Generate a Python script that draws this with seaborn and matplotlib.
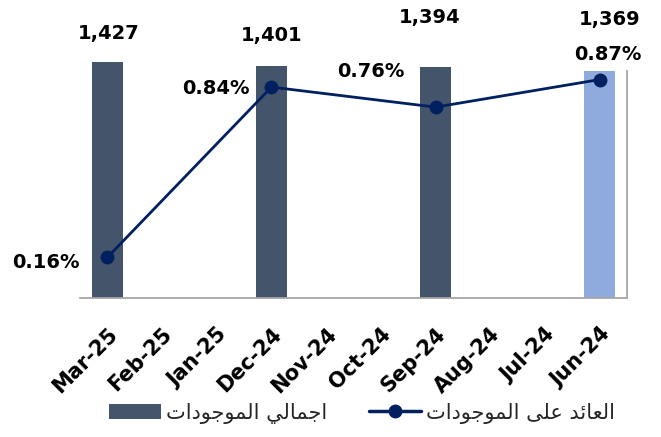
import matplotlib
matplotlib.use("Agg")
import matplotlib.pyplot as plt
import seaborn as sns
import pandas as pd
from matplotlib.patches import Patch
from matplotlib.lines import Line2D

# === Data ===
months = ["Mar-25", "Feb-25", "Jan-25", "Dec-24", "Nov-24",
          "Oct-24", "Sep-24", "Aug-24", "Jul-24", "Jun-24"]
bar_months = ["Mar-25", "Dec-24", "Sep-24", "Jun-24"]
total_assets = [1427, 1401, 1394, 1369]
roa = [0.16, 0.84, 0.76, 0.87]

label_assets = "اجمالي الموجودات"
label_roa = "العائد على الموجودات"

# === Styles ===
dark_bar = "#44546A"
light_bar = "#8FAADC"
line_color = "#002060"
spine_color = "#A6A6A6"

# label offsets (points) for value labels
asset_offsets = [(1, 13), (0, 15), (-4, 29), (7, 30)]
roa_offsets = [(-20, -4), (-16, -1), (-22, 26), (6, 18)]
roa_ha = ["right", "right", "right", "center"]

# === Arabic shaping (presentation forms, visual order) ===
FORMS = {
    "ا": ("\uFE8D", "\uFE8E", None, None),
    "د": ("\uFEA9", "\uFEAA", None, None),
    "و": ("\uFEED", "\uFEEE", None, None),
    "ج": ("\uFE9D", "\uFE9E", "\uFE9F", "\uFEA0"),
    "م": ("\uFEE1", "\uFEE2", "\uFEE3", "\uFEE4"),
    "ل": ("\uFEDD", "\uFEDE", "\uFEDF", "\uFEE0"),
    "ي": ("\uFEF1", "\uFEF2", "\uFEF3", "\uFEF4"),
    "ت": ("\uFE95", "\uFE96", "\uFE97", "\uFE98"),
    "ع": ("\uFEC9", "\uFECA", "\uFECB", "\uFECC"),
    "ئ": ("\uFE89", "\uFE8A", "\uFE8B", "\uFE8C"),
    "ى": ("\uFEEF", "\uFEF0", "\uFBE8", "\uFBE9"),
}


def shape(text):
    out = []
    for i, c in enumerate(text):
        if c not in FORMS:
            out.append(c)
            continue
        prev = text[i - 1] if i > 0 else None
        nxt = text[i + 1] if i + 1 < len(text) else None
        join_prev = prev in FORMS and FORMS[prev][2] is not None
        join_next = FORMS[c][2] is not None and nxt in FORMS
        iso, fin, ini, med = FORMS[c]
        if join_prev and join_next:
            out.append(med)
        elif join_prev:
            out.append(fin)
        elif join_next:
            out.append(ini)
        else:
            out.append(iso)
    return "".join(reversed(out))


sns.set_theme(style="white")
plt.rcParams["font.family"] = ["DejaVu Sans"]

df = pd.DataFrame({"month": bar_months, "assets": total_assets})
palette = {m: dark_bar for m in bar_months}
palette[bar_months[-1]] = light_bar

fig = plt.figure(figsize=(6.61, 4.37), dpi=100)
ax = fig.add_axes([80 / 661, 1 - 297.5 / 437, 547 / 661, 250.5 / 437])

sns.barplot(data=df, x="month", y="assets", hue="month", order=months,
            palette=palette, width=0.57, legend=False, saturation=1,
            linewidth=0, ax=ax)
ax.set_xlim(-0.5, len(months) - 0.5)
ax.set_ylim(0, 1515)
ax.set_yticks([])
ax.set_xlabel("")
ax.set_ylabel("")

for s in ["top", "left"]:
    ax.spines[s].set_visible(False)
ax.spines["bottom"].set_color(spine_color)
ax.spines["bottom"].set_linewidth(1.3)
ax.spines["right"].set_color(spine_color)
ax.spines["right"].set_linewidth(1.3)
ax.spines["right"].set_bounds(0, total_assets[-1])

ax.tick_params(axis="x", length=0, pad=19)
for lbl in ax.get_xticklabels():
    lbl.set_rotation(45)
    lbl.set_ha("right")
    lbl.set_va("top")
    lbl.set_rotation_mode("anchor")
    lbl.set_fontsize(15)
    lbl.set_fontweight("bold")
    lbl.set_color("black")

for m, v, off in zip(bar_months, total_assets, asset_offsets):
    ax.annotate(f"{v:,}", (months.index(m), v), xytext=off,
                textcoords="offset points", ha="center", va="bottom",
                fontsize=14, fontweight="bold", color="black")

ax2 = ax.twinx()
xpos = [months.index(m) for m in bar_months]
sns.lineplot(x=xpos, y=roa, ax=ax2, color=line_color, linewidth=2,
             marker="o", markersize=10, markeredgewidth=0)
ax2.set_ylim(0, 1.0)
ax2.set_yticks([])
ax2.set_ylabel("")
for s in ax2.spines.values():
    s.set_visible(False)

for x, v, off, ha in zip(xpos, roa, roa_offsets, roa_ha):
    ax2.annotate(f"{v:.2f}%", (x, v), xytext=off, textcoords="offset points",
                 ha=ha, va="center", fontsize=14, fontweight="bold",
                 color="black")

handles = [
    Patch(facecolor=dark_bar, edgecolor="none"),
    Line2D([0], [0], color=line_color, linewidth=2.5, marker="o",
           markersize=9),
]
fig.legend(handles, [shape(label_assets), shape(label_roa)],
           loc="center", bbox_to_anchor=(362 / 661, 1 - 413 / 437),
           ncol=2, frameon=False, fontsize=15, handlelength=2.5,
           handleheight=0.7, handletextpad=0.25, columnspacing=2.0)

fig.savefig("out.png", dpi=100)
